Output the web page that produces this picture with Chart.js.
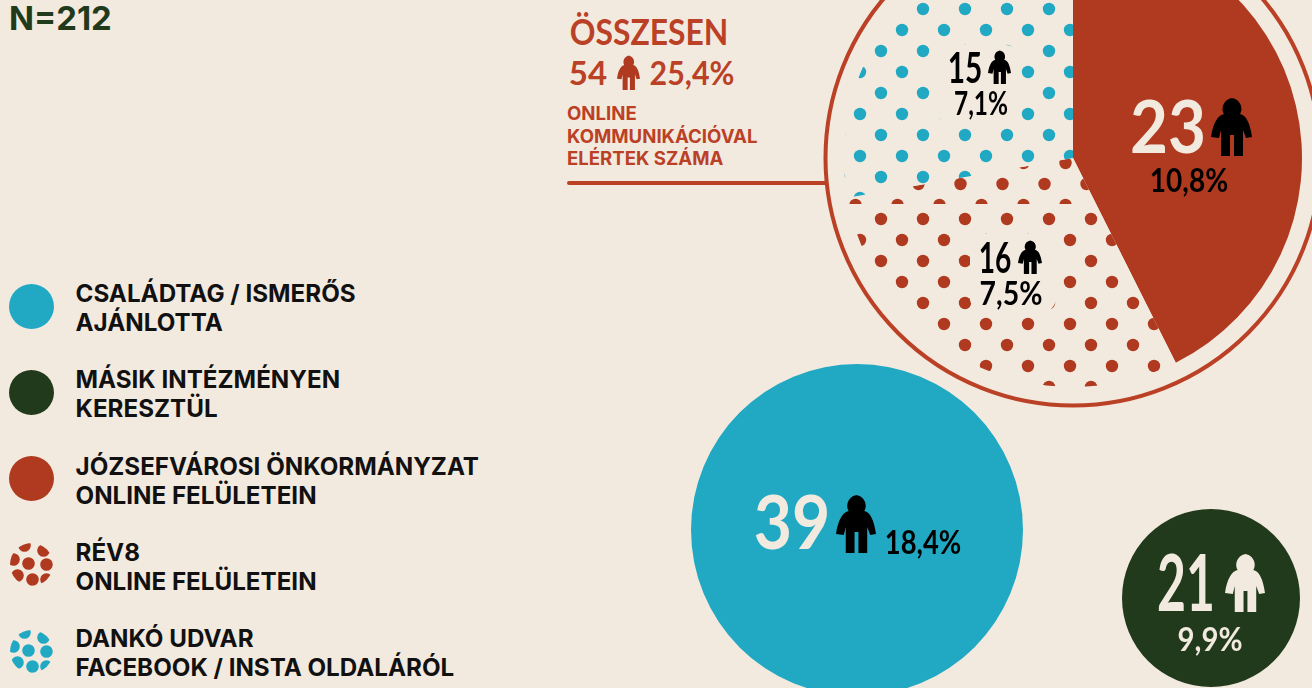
<!DOCTYPE html>
<html lang="hu">
<head>
<meta charset="utf-8">
<title>Online kommunikáció</title>
<script src="https://cdn.jsdelivr.net/npm/chart.js@4"></script>
<style>
html, body { margin:0; padding:0; width:1312px; height:688px; overflow:hidden; background:#f3eadf; }
canvas { position:absolute; }
.abs { position:absolute; white-space:nowrap; }
.hand { font-family:Lato, sans-serif; font-weight:700; line-height:1; }
</style>
</head>
<body>
<script>
	var RED = "#b03a20";
	var LINE_RED = "#bb4126";
	var BLUE = "#21a9c4";
	var GREEN = "#213a1c";
	var CREAM = "#f3eadf";
	var BLACK = "#000000";

	var sampleLabel = "N=212";
	var legendLabels = [
		["CSALÁDTAG / ISMERŐS", "AJÁNLOTTA"],
		["MÁSIK INTÉZMÉNYEN", "KERESZTÜL"],
		["JÓZSEFVÁROSI ÖNKORMÁNYZAT", "ONLINE FELÜLETEIN"],
		["RÉV8", "ONLINE FELÜLETEIN"],
		["DANKÓ UDVAR", "FACEBOOK / INSTA OLDALÁRÓL"]
	];
	var totalTitle = "ÖSSZESEN";
	var totalCount = 54;
	var totalPercent = "25,4%";
	var totalCaption = ["ONLINE", "KOMMUNIKÁCIÓVAL", "ELÉRTEK SZÁMA"];

	// online slices, clockwise from the top
	var onlineValues = [23, 16, 15];
	var onlinePercents = ["10,8%", "7,5%", "7,1%"];
	var familyValue = [39];
	var familyPercent = "18,4%";
	var otherValue = [21];
	var otherPercent = "9,9%";

	var PERSON = '<path d="M13 17C10 13 11 3 21 1C31 3 32 13 29 17C35 18 39 26 41 40L35 41L32 33V59H23V38H19V59H10V33L8 41L0 40C2 26 7 18 13 17Z"/>';

	function addBox(html, left, top, css) {
		var d = document.createElement("div");
		d.className = "abs";
		d.style.left = left + "px";
		d.style.top = top + "px";
		d.style.cssText += ";" + (css || "");
		d.innerHTML = html;
		document.body.appendChild(d);
		return d;
	}

	// text centred on cx, sitting on the given baseline
	function addHand(text, cx, baseline, size, color, squeeze) {
		var d = addBox(text, cx, baseline - size * 0.887);
		d.className = "abs hand";
		d.style.fontSize = size + "px";
		d.style.color = color;
		d.style.transform = "translateX(-50%) scaleX(" + (squeeze || 1) + ")";
	}

	function addPerson(left, top, w, h, color) {
		addBox('<svg width="' + w + '" height="' + h + '" viewBox="0 0 41 59" preserveAspectRatio="none" fill="' + color + '" style="display:block">' + PERSON + '</svg>', left, top);
	}

	function addHalo(left, top, w, h) {
		addBox("", left, top, "width:" + w + "px;height:" + h + "px;background:" + CREAM + ";border-radius:14px");
	}

	// the online pie canvas sits at 821,-94 on the page
	var PIE_LEFT = 821;
	var PIE_TOP = -94;
	var PIE_SIZE = 504;

	// staggered dots, grid anchored on page point ax,ay, kept between page rows y0 and y1
	function drawDots(c, color, ax, ay, y0, y1) {
		c.save();
		c.beginPath();
		c.rect(0, y0 - PIE_TOP, PIE_SIZE, y1 - y0);
		c.clip();
		c.fillStyle = color;
		for (var row = -30; row < 30; row++) {
			for (var col = -15; col < 15; col++) {
				c.beginPath();
				c.arc(ax + col * 42 + (row % 2 ? 21 : 0) - PIE_LEFT, ay + row * 21 - PIE_TOP, 6.2, 0, Math.PI * 2);
				c.fill();
			}
		}
		c.restore();
	}

	function dotTile(paint) {
		var tile = document.createElement("canvas");
		tile.width = PIE_SIZE;
		tile.height = PIE_SIZE;
		var c = tile.getContext("2d");
		c.fillStyle = CREAM;
		c.fillRect(0, 0, PIE_SIZE, PIE_SIZE);
		paint(c);
		return c.createPattern(tile, "no-repeat");
	}

	function makePie(cx, cy, radius, pad, values, colors, plugins) {
		var size = (radius + pad) * 2;
		var cv = document.createElement("canvas");
		cv.width = size;
		cv.height = size;
		cv.style.left = (cx - size / 2) + "px";
		cv.style.top = (cy - size / 2) + "px";
		document.body.appendChild(cv);
		return new Chart(cv.getContext("2d"), {
			type : "pie",
			data : {
				labels : values.map(String),
				datasets : [ {
					data : values,
					backgroundColor : colors,
					borderWidth : 0,
					hoverOffset : 0
				} ]
			},
			options : {
				responsive : false,
				animation : false,
				events : [],
				layout : { padding : pad },
				plugins : { legend : { display : false }, tooltip : { enabled : false } }
			},
			plugins : plugins || []
		});
	}

	// thin ring round the online pie
	var ringPlugin = {
		id : "ring",
		afterDatasetsDraw : function(chart) {
			var arc = chart.getDatasetMeta(0).data[0];
			var ctx = chart.ctx;
			ctx.save();
			ctx.strokeStyle = LINE_RED;
			ctx.lineWidth = 4;
			ctx.beginPath();
			ctx.arc(arc.x, arc.y, arc.outerRadius + 18.5, 0, Math.PI * 2);
			ctx.stroke();
			ctx.restore();
		}
	};

	var redDots = dotTile(function(c) {
		// the red field is two pieces in the original, the upper one sits off grid
		drawDots(c, RED, 897.5, 205, -100, 204);
		drawDots(c, RED, 923, 9, 209, 500);
	});
	var blueDots = dotTile(function(c) {
		drawDots(c, BLUE, 923, 9, -100, 500);
	});
	makePie(1073, 158, 229, 23, onlineValues, [RED, redDots, blueDots], [ringPlugin]);
	makePie(856.5, 530, 166, 0, familyValue, [BLUE]);
	makePie(1210.5, 598, 89, 0, otherValue, [GREEN]);

	// header
	addBox(sampleLabel, 9, -1, "font:700 32.8px/38px Inter,sans-serif;color:" + GREEN);

	// legend
	var swatchDots = [[-7, -19], [12, -14], [-18, -5], [-3, -1], [15, 0], [-14, 11], [1, 15], [15, 15]];
	var swatchColors = [BLUE, GREEN, RED, "dots" + RED, "dots" + BLUE];
	legendLabels.forEach(function(lines, i) {
		var top = 279 + i * 86.3;
		var fill = swatchColors[i];
		var inner;
		if (fill.indexOf("dots") === 0) {
			var col = fill.substring(4);
			inner = '<clipPath id="sw' + i + '"><circle cx="22.5" cy="22.5" r="21.5"/></clipPath><g clip-path="url(#sw' + i + ')" fill="' + col + '">';
			swatchDots.forEach(function(p) {
				inner += '<circle cx="' + (22.5 + p[0]) + '" cy="' + (22.5 + p[1]) + '" r="6.3"/>';
			});
			inner += "</g>";
		} else {
			inner = '<circle cx="22.5" cy="22.5" r="22.5" fill="' + fill + '"/>';
		}
		addBox('<svg width="45" height="45" style="display:block">' + inner + '</svg>', 9, top + 4.5);
		addBox(lines.join("<br>"), 75.5, top, "font:700 24.2px/29px Inter,sans-serif;color:#111111");
	});

	// total block
	addHand(totalTitle, 649, 45, 37, LINE_RED, 0.86);
	addHand(String(totalCount), 588, 85, 33, LINE_RED);
	addPerson(617, 55, 23, 35, RED);
	addHand(totalPercent, 692, 85, 33, LINE_RED, 0.92);
	addBox(totalCaption.join("<br>"), 567, 102, "font:700 18.6px/22.5px Inter,sans-serif;color:" + LINE_RED);
	addBox("", 567, 181, "width:260px;height:4px;background:" + LINE_RED + ";border-radius:2px");

	// online pie labels
	addHand(String(onlineValues[0]), 1168, 153, 72, CREAM, 0.91);
	addPerson(1211, 97, 41, 59, BLACK);
	addHand(onlinePercents[0], 1189, 192, 33, BLACK, 0.85);

	addHalo(970, 234, 86, 78);
	addHand(String(onlineValues[1]), 995, 273, 42, BLACK, 0.67);
	addPerson(1018, 240, 24, 34, BLACK);
	addHand(onlinePercents[1], 1011, 305, 33, BLACK, 0.86);

	addHalo(935, 45, 84, 77);
	addHand(String(onlineValues[2]), 965, 83, 42, BLACK, 0.71);
	addPerson(988, 50, 23, 34, BLACK);
	addHand(onlinePercents[2], 981, 115, 33, BLACK, 0.74);

	// the two plain circles
	addHand(String(familyValue[0]), 792, 550, 75, CREAM, 0.88);
	addPerson(836, 494, 40, 59, BLACK);
	addHand(familyPercent, 923, 554, 33, BLACK, 0.83);

	addHand(String(otherValue[0]), 1186, 611, 78, CREAM, 0.64);
	addPerson(1225, 553, 40, 59, CREAM);
	addHand(otherPercent, 1210, 651, 33, CREAM, 0.89);
</script>
</body>
</html>
